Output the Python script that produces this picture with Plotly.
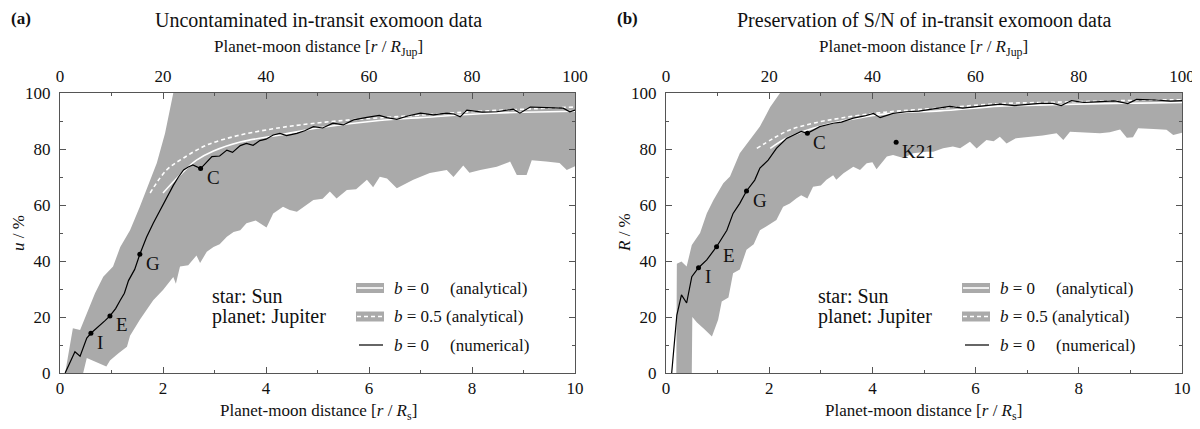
import plotly.graph_objects as go

# ---------------- data ----------------
# panel (a): uncontaminated in-transit exomoon data, u / %
a_num_x = [0.1, 0.2, 0.29, 0.39, 0.52, 0.6, 0.75, 0.88, 0.97, 1.08,
           1.17, 1.25, 1.33, 1.45, 1.55, 1.68, 1.81, 1.94, 2.07, 2.2,
           2.3, 2.4, 2.49, 2.58, 2.73, 2.85, 2.95, 3.1, 3.24, 3.35,
           3.5, 3.62, 3.75, 3.88, 4.0, 4.14, 4.27, 4.4, 4.6, 4.75,
           4.92, 5.1, 5.3, 5.5, 5.7, 5.96, 6.2, 6.35, 6.54, 6.75,
           7.0, 7.25, 7.5, 7.65, 7.77, 7.9, 8.2, 8.48, 8.65, 8.8,
           8.93, 9.13, 9.45, 9.77, 9.9, 10.0]
a_num_y = [0, 4, 7.6, 6, 12.5, 14.2, 16.5, 18.8, 20.4, 23,
           26, 28.5, 33, 37, 42.4, 48.5, 53.5, 58, 63, 67,
           70, 72.5, 73.6, 74.3, 73, 75.5, 77.3, 77.5, 79.6, 78.8,
           81.2, 82, 81.3, 83, 83.5, 85, 85.6, 84.8, 85.6, 86.5,
           88, 87.5, 89.2, 88.6, 90.4, 91.3, 92, 91.2, 90.6, 91.8,
           92.8, 92.2, 92.8, 92.5, 91.5, 93.9, 93.2, 93.3, 93.8, 94.2,
           92.8, 95, 94.8, 94.6, 93.3, 93.9]

a_up_x = [0.1, 0.25, 0.39, 0.52, 0.68, 0.84, 1.03, 1.17, 1.36, 1.55,
          1.68, 1.88, 2.04, 2.2, 10.0]
a_up_y = [0, 16, 15.4, 21.4, 28.5, 34.4, 38, 45, 51, 59.4,
          65.4, 75, 85.6, 100, 100]
a_lo_x = [0.1, 0.45, 0.52, 0.74, 0.9, 0.97, 1.13, 1.3, 1.36, 1.55,
          1.81, 2.0, 2.2, 2.25, 2.33, 2.49, 2.65, 2.72, 2.85, 2.98,
          3.1, 3.24, 3.37, 3.5, 3.62, 3.8, 4.01, 4.14, 4.33, 4.46,
          4.6, 4.92, 5.1, 5.24, 5.37, 5.57, 5.75, 5.96, 6.08, 6.21,
          6.35, 6.54, 6.86, 7.18, 7.51, 7.64, 7.83, 7.95, 8.16, 8.48,
          8.74, 8.87, 9.06, 9.16, 9.44, 9.7, 9.84, 10.0]
a_lo_y = [0, 0, 5.4, 3.5, 2.3, 4.5, 7, 9.4, 13.3, 19,
          26, 29.6, 34.3, 31.9, 38, 38.5, 42, 39.3, 43.3, 45,
          46, 48.7, 50.4, 51, 53.5, 54.5, 52, 57, 59.4, 58.2,
          57.6, 61.8, 62.2, 64.8, 62.3, 65.4, 65.6, 69, 66.3, 70.1,
          69.5, 66, 69, 71.4, 72.5, 70, 74.1, 71.5, 72.5, 73.7,
          75.5, 70.7, 70.7, 76, 75.5, 75, 72.5, 73.8]

a_ana0_x = [2.0, 2.33, 2.65, 2.98, 3.5, 4.27, 5.0, 6.2, 7.0, 8.16, 9.0, 10.0]
a_ana0_y = [64.3, 70.7, 76, 79.3, 82.5, 85, 87.5, 90.2, 91.2, 92.6, 93.1, 93.5]
a_ana05_x = [1.75, 2.07, 2.4, 2.85, 3.5, 4.27, 4.66, 5.5, 6.2, 7.0, 8.16, 9.0, 10.0]
a_ana05_y = [64.3, 72.5, 76.8, 81.4, 85, 87.6, 88.6, 90.2, 91.1, 92.1, 93.5, 94.2, 95]

a_moon_names = ["I", "E", "G", "C"]
a_moon_x = [0.6, 0.97, 1.55, 2.73]
a_moon_y = [14.2, 20.4, 42.4, 73]

# panel (b): preservation of S/N, R / %
b_num_x = [0.11, 0.21, 0.3, 0.4, 0.5, 0.63, 0.79, 0.98, 1.18, 1.3,
           1.43, 1.56, 1.72, 1.82, 1.98, 2.14, 2.34, 2.53, 2.62, 2.74,
           2.98, 3.24, 3.4, 3.63, 3.85, 4.02, 4.15, 4.4, 4.66, 4.9,
           5.18, 5.5, 5.75, 6.02, 6.25, 6.47, 6.75, 7.0, 7.25, 7.5,
           7.66, 7.86, 8.1, 8.41, 8.7, 8.95, 9.12, 9.5, 9.78, 10.0]
b_num_y = [0, 20.7, 27.9, 25, 34.4, 37.6, 40.4, 45.1, 51, 57,
           60.6, 65, 68.9, 73.2, 76, 80.2, 83.8, 85.6, 86.3, 85.6,
           88, 89.2, 89.6, 91, 91.8, 92.7, 91.2, 92.7, 93.3, 93.5,
           94.2, 95.2, 94.6, 95.1, 95.4, 96, 95.5, 95.8, 96.3, 96.3,
           95.5, 97.3, 96.6, 96.9, 97.2, 96.2, 97.7, 97.5, 97.1, 97.3]

b_up_x = [0.2, 0.21, 0.3, 0.4, 0.5, 0.66, 0.79, 0.92, 1.11, 1.24,
          1.43, 1.63, 1.82, 2.02, 2.21, 10.0]
b_up_y = [0, 39, 39.8, 38, 45.7, 50, 57, 61.8, 67.8, 70.2,
          78.5, 83.2, 88, 95, 100, 100]
b_lo_x = [0.2, 0.5, 0.51, 0.6, 0.75, 0.89, 1.01, 1.08, 1.21, 1.3,
          1.43, 1.56, 1.7, 1.82, 1.95, 2.14, 2.27, 2.4, 2.53, 2.62,
          2.74, 2.85, 3.0, 3.11, 3.24, 3.3, 3.44, 3.63, 3.76, 3.89,
          4.0, 4.08, 4.28, 4.4, 4.6, 4.79, 5.05, 5.18, 5.37, 5.56,
          5.7, 5.89, 6.02, 6.21, 6.35, 6.47, 6.6, 6.78, 7.1, 7.3,
          7.57, 7.7, 7.83, 8.1, 8.41, 8.6, 8.8, 8.93, 9.05, 9.15,
          9.45, 9.7, 9.83, 10.0]
b_lo_y = [0, 0, 20, 18, 15.5, 13, 19, 25.5, 27, 35.6,
          37, 44, 46, 51, 52.4, 54.6, 59.4, 60.5, 62.4, 63.5,
          62.3, 66.5, 67, 69, 70.6, 69, 71.3, 73.7, 72.5, 74.9,
          75.3, 72.8, 77.3, 77.9, 76.8, 78.5, 79, 79, 80.3, 80.9,
          80.3, 82.6, 80.2, 83.2, 82.8, 84.4, 82, 83.8, 84.4, 84.8,
          85.6, 83.2, 86.2, 85.8, 85.6, 86, 87, 84, 84.2, 87.4,
          87.1, 86.9, 85, 85.8]

b_ana0_x = [2.02, 2.34, 2.85, 3.37, 4.02, 4.53, 5.31, 6.47, 7.5, 8.41, 9.2, 10.0]
b_ana0_y = [80.2, 83.9, 87.4, 89.8, 92, 93, 93.6, 95.3, 95.8, 96.2, 96.4, 96.6]
b_ana05_x = [1.76, 2.08, 2.4, 2.85, 3.37, 4.02, 4.53, 5.31, 6.47, 7.5, 8.41, 9.2, 10.0]
b_ana05_y = [80.2, 83.8, 86.8, 89.2, 91, 92.7, 93.6, 94.6, 96.2, 96.7, 97.1, 97.4, 97.6]

b_moon_names = ["I", "E", "G", "C", "K21"]
b_moon_x = [0.63, 0.98, 1.56, 2.74, 4.46]
b_moon_y = [37.6, 45.1, 65, 85.6, 82.4]

# axis ranges / ticks
RS_RANGE = [0, 10]
JUP_RANGE = [0, 100]
PCT_RANGE = [0, 100]

FONT = "Liberation Serif"
BAND = "#aaaaaa"
AXC = "#555555"
# the page puts the plot 8 px in from the top-left corner
PAD = 8
W, H = 1200 - PAD, 429 - PAD


def px(x):
    return (x - PAD) / W


def py(y):
    return 1 - (y - PAD) / H


fig = go.Figure()


def add_panel(xa, ya, xtop, band, num, ana0, ana05, moons):
    (ux, uy), (lx, ly) = band
    fig.add_trace(go.Scatter(x=ux + lx[::-1], y=uy + ly[::-1], fill="toself",
                             fillcolor=BAND, line=dict(width=0), mode="lines",
                             hoverinfo="skip", xaxis=xa, yaxis=ya))
    fig.add_trace(go.Scatter(x=ana0[0], y=ana0[1], mode="lines",
                             line=dict(color="white", width=1.6, shape="spline"),
                             xaxis=xa, yaxis=ya))
    fig.add_trace(go.Scatter(x=ana05[0], y=ana05[1], mode="lines",
                             line=dict(color="white", width=1.6, dash="4px,3px", shape="spline"),
                             xaxis=xa, yaxis=ya))
    fig.add_trace(go.Scatter(x=num[0], y=num[1], mode="lines",
                             line=dict(color="black", width=1.2),
                             xaxis=xa, yaxis=ya))
    names, mx, my = moons
    fig.add_trace(go.Scatter(x=mx, y=my, mode="markers",
                             marker=dict(color="black", size=5),
                             xaxis=xa, yaxis=ya))
    for n, x, y in zip(names, mx, my):
        fig.add_annotation(x=x, y=y, xref=xa, yref=ya, text=n, showarrow=False,
                           xanchor="left", yanchor="middle", xshift=4, yshift=-9,
                           font=dict(family=FONT, size=19, color="#111"))
    # invisible trace so the top (r / R_Jup) axis gets drawn
    fig.add_trace(go.Scatter(x=JUP_RANGE, y=PCT_RANGE, mode="markers",
                             marker=dict(opacity=0), hoverinfo="skip",
                             xaxis=xtop, yaxis=ya))


add_panel("x", "y", "x3", ((a_up_x, a_up_y), (a_lo_x, a_lo_y)),
          (a_num_x, a_num_y), (a_ana0_x, a_ana0_y), (a_ana05_x, a_ana05_y),
          (a_moon_names, a_moon_x, a_moon_y))
add_panel("x2", "y2", "x4", ((b_up_x, b_up_y), (b_lo_x, b_lo_y)),
          (b_num_x, b_num_y), (b_ana0_x, b_ana0_y), (b_ana05_x, b_ana05_y),
          (b_moon_names, b_moon_x, b_moon_y))

tickfont = dict(family=FONT, size=17, color="#111")
ydom = [py(373), py(93)]
doms = [[px(60), px(575)], [px(666), px(1182)]]

common = dict(showline=True, linecolor=AXC, linewidth=1, ticks="inside",
              tickcolor=AXC, showgrid=False, zeroline=False, tickfont=tickfont,
              automargin=False)

layout = dict(width=W, height=H, margin=dict(l=0, r=0, t=0, b=0, autoexpand=False),
              paper_bgcolor="white", plot_bgcolor="white", showlegend=False,
              font=dict(family=FONT, color="#111"))

for i, (xb, yk, xt, ov) in enumerate([("xaxis", "yaxis", "xaxis3", "x"),
                                      ("xaxis2", "yaxis2", "xaxis4", "x2")]):
    layout[xb] = dict(common, domain=doms[i], range=RS_RANGE, dtick=2, ticklen=6,
                      minor=dict(dtick=1, ticks="inside", ticklen=3, tickcolor=AXC),
                      anchor="y" if i == 0 else "y2", ticklabelstandoff=0)
    layout[yk] = dict(common, domain=ydom, range=PCT_RANGE, dtick=20, ticklen=6,
                      mirror="ticks",
                      minor=dict(dtick=10, ticks="inside", ticklen=3, tickcolor=AXC),
                      anchor="x" if i == 0 else "x2", ticklabelstandoff=5)
    layout[xt] = dict(common, overlaying=ov, side="top", range=JUP_RANGE, dtick=20,
                      ticklen=6, anchor="y" if i == 0 else "y2",
                      minor=dict(dtick=10, ticks="inside", ticklen=3, tickcolor=AXC),
                      ticklabelstandoff=3)

fig.update_layout(**layout)

# titles, axis labels, legends
panels = [("(a)", "Uncontaminated in-transit exomoon data", "<i>u</i> / %", 0),
          ("(b)", "Preservation of S/N of in-transit exomoon data", "<i>R</i> / %", 606)]
for tag, title, ylab, off in panels:
    def ann(x, y, text, size, xanchor="center", **kw):
        fig.add_annotation(x=px(x + off), y=py(y), xref="paper", yref="paper",
                           text=text, showarrow=False, xanchor=xanchor,
                           yanchor="middle",
                           font=dict(family=FONT, size=size, color="#111"), **kw)
    ann(9, 19, "<b>" + tag + "</b>", 17, xanchor="left")
    ann(318, 20, title, 20)
    ann(318, 48, "Planet-moon distance [<i>r</i> / <i>R</i><sub>Jup</sub>]", 17)
    ann(318, 412, "Planet-moon distance [<i>r</i> / <i>R</i><sub>s</sub>]", 17)
    ann(18, 233, ylab, 17, textangle=-90)
    ann(210, 296, "star: Sun", 20, xanchor="left")
    ann(210, 316, "planet: Jupiter", 20, xanchor="left")
    rows = [("<i>b</i> = 0", "(analytical)", "solid"),
            ("<i>b</i> = 0.5 (analytical)", "", "dash"),
            ("<i>b</i> = 0", "(numerical)", None)]
    for j, (lab, kind, sty) in enumerate(rows):
        yc = 288 + j * 28.5
        if sty is not None:
            fig.add_shape(type="rect", xref="paper", yref="paper",
                          x0=px(356 + off), x1=px(384 + off),
                          y0=py(yc + 5), y1=py(yc - 5),
                          fillcolor=BAND, line=dict(width=0))
            fig.add_shape(type="line", xref="paper", yref="paper",
                          x0=px(357 + off), x1=px(383 + off), y0=py(yc), y1=py(yc),
                          line=dict(color="white", width=1.6,
                                    dash="solid" if sty == "solid" else "4px,3px"))
        else:
            fig.add_shape(type="line", xref="paper", yref="paper",
                          x0=px(359 + off), x1=px(383 + off), y0=py(yc), y1=py(yc),
                          line=dict(color="black", width=1.2))
        ann(392, yc, lab, 17, xanchor="left")
        if kind:
            ann(448, yc, kind, 17, xanchor="left")

fig.write_html("out.html")
